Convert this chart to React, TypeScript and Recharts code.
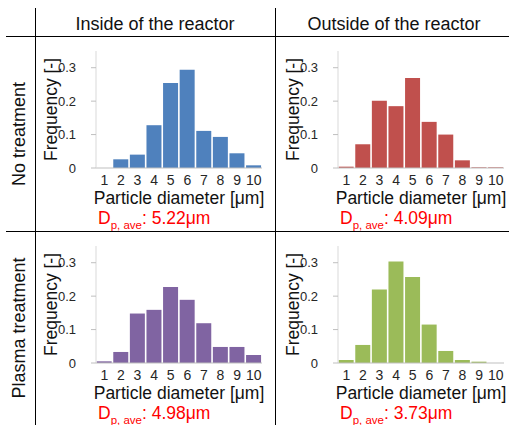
import { Bar, BarChart, XAxis, YAxis } from 'recharts';

const sizes = ['1', '2', '3', '4', '5', '6', '7', '8', '9', '10'];
const insideNoTreatment = [0, 0.026, 0.04, 0.128, 0.254, 0.294, 0.111, 0.093, 0.044, 0.008];
const outsideNoTreatment = [0.004, 0.071, 0.201, 0.185, 0.269, 0.138, 0.1, 0.023, 0.002, 0.002];
const insidePlasma = [0.005, 0.033, 0.148, 0.159, 0.227, 0.189, 0.119, 0.048, 0.048, 0.024];
const outsidePlasma = [0.009, 0.054, 0.22, 0.304, 0.257, 0.115, 0.036, 0.009, 0.004, 0];
const averageDiameters = ['5.22', '4.09', '4.98', '3.73'];
const yTicks = [0, 0.1, 0.2, 0.3];
const columnTitles = ['Inside of the reactor', 'Outside of the reactor'];
const rowTitles = ['No treatment', 'Plasma treatment'];

const FONT = '"Liberation Sans", Arial, sans-serif';
const CHART_W = 232;
const CHART_H = 195;
const Y_AXIS_W = 61;
const TOP_PAD = 14;
const X_AXIS_H = 64;

type PanelProps = {
  values: number[];
  color: string;
  average: string;
  left: number;
  top: number;
};

function Panel({ values, color, average, left, top }: PanelProps) {
  const rows = sizes.map((size, i) => ({ size, freq: values[i] }));
  const plotH = CHART_H - TOP_PAD - X_AXIS_H;
  const baseline = TOP_PAD + plotH;

  return (
    <div style={{ position: 'absolute', left, top, width: CHART_W, height: CHART_H }}>
      <BarChart
        width={CHART_W}
        height={CHART_H}
        data={rows}
        margin={{ top: TOP_PAD, right: 5, bottom: 0, left: 0 }}
        barCategoryGap="4%"
      >
        <XAxis
          dataKey="size"
          height={X_AXIS_H}
          interval={0}
          tickLine={false}
          tickSize={0}
          tickMargin={7}
          axisLine={{ stroke: '#BFBFBF' }}
          tick={{ fontSize: 14, fill: '#262626', fontFamily: FONT }}
          label={{
            value: 'Particle diameter [μm]',
            position: 'insideBottom',
            offset: 28,
            fontSize: 17.5,
            fill: '#111',
            fontFamily: FONT,
          }}
        />
        <XAxis
          xAxisId="top"
          orientation="top"
          dataKey="size"
          height={0}
          tick={false}
          tickLine={false}
          axisLine={{ stroke: '#D9D9D9' }}
        />
        <YAxis
          width={Y_AXIS_W}
          domain={[0, 0.35]}
          ticks={yTicks}
          tickSize={5}
          tickMargin={15}
          tickLine={{ stroke: '#BFBFBF' }}
          axisLine={{ stroke: '#D9D9D9' }}
          tick={{ fontSize: 13, fill: '#262626', fontFamily: FONT }}
          tickFormatter={(v: number) => (v === 0 ? '0' : v.toFixed(1))}
        />
        <YAxis
          yAxisId="right"
          orientation="right"
          width={0}
          domain={[0, 1]}
          tick={false}
          tickLine={false}
          axisLine={{ stroke: '#D9D9D9' }}
        />
        <Bar dataKey="freq" fill={color} isAnimationActive={false} />
      </BarChart>
      <svg
        width={CHART_W}
        height={CHART_H}
        style={{ position: 'absolute', left: 0, top: 0, pointerEvents: 'none', overflow: 'visible' }}
      >
        <text
          transform={`translate(${Y_AXIS_W - 39}, ${TOP_PAD + plotH / 2}) rotate(-90)`}
          textAnchor="middle"
          fontSize={17.5}
          fontFamily={FONT}
          fill="#111"
        >
          Frequency [-]
        </text>
        <text x={Y_AXIS_W + 2} y={baseline + 56} fill="#FF0000" fontSize={17.5} fontFamily={FONT}>
          D
          <tspan fontSize={11.5} dy={5}>
            p, ave
          </tspan>
          <tspan dy={-5}>: {average}μm</tspan>
        </text>
      </svg>
    </div>
  );
}

export default function App() {
  return (
    <div
      style={{
        position: 'absolute',
        left: 0,
        top: 0,
        width: 509,
        height: 425,
        overflow: 'hidden',
        background: '#fff',
        fontFamily: FONT,
      }}
    >
      <svg width={509} height={425} style={{ position: 'absolute', left: 0, top: 0 }}>
        <line x1={6} y1={36.5} x2={509} y2={36.5} stroke="#000" strokeWidth={1} />
        <line x1={6} y1={231.5} x2={509} y2={231.5} stroke="#000" strokeWidth={1} />
        <line x1={35.5} y1={8} x2={35.5} y2={425} stroke="#000" strokeWidth={1} />
        <line x1={275.5} y1={8} x2={275.5} y2={425} stroke="#000" strokeWidth={1} />
        <text x={155} y={30} textAnchor="middle" fontSize={18} fill="#111">
          {columnTitles[0]}
        </text>
        <text x={394} y={30} textAnchor="middle" fontSize={18} fill="#111">
          {columnTitles[1]}
        </text>
        <text transform="translate(25, 134) rotate(-90)" textAnchor="middle" fontSize={18} fill="#111">
          {rowTitles[0]}
        </text>
        <text transform="translate(25, 328) rotate(-90)" textAnchor="middle" fontSize={18} fill="#111">
          {rowTitles[1]}
        </text>
      </svg>
      <Panel values={insideNoTreatment} color="#4F81BD" average={averageDiameters[0]} left={35} top={37} />
      <Panel values={outsideNoTreatment} color="#C0504D" average={averageDiameters[1]} left={277} top={37} />
      <Panel values={insidePlasma} color="#8064A2" average={averageDiameters[2]} left={35} top={232} />
      <Panel values={outsidePlasma} color="#9BBB59" average={averageDiameters[3]} left={277} top={232} />
    </div>
  );
}
